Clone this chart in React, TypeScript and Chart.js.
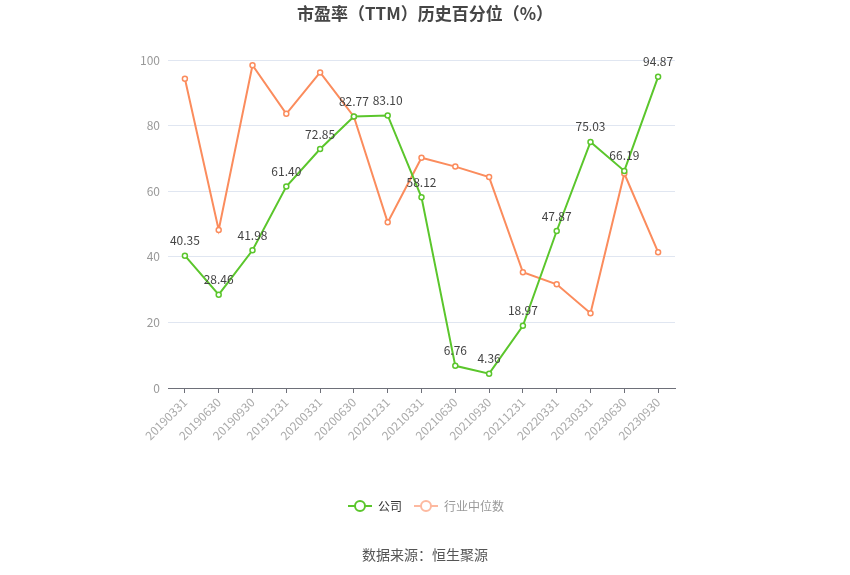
import React, { useEffect, useRef } from "react";
import { Chart, registerables } from "chart.js";

Chart.register(...registerables);

const categories = [
  "20190331", "20190630", "20190930", "20191231", "20200331",
  "20200630", "20201231", "20210331", "20210630", "20210930",
  "20211231", "20220331", "20230331", "20230630", "20230930",
];
const companyValues = [
  40.35, 28.46, 41.98, 61.4, 72.85, 82.77, 83.1, 58.12, 6.76, 4.36,
  18.97, 47.87, 75.03, 66.19, 94.87,
];
const industryValues = [
  94.3, 48.2, 98.4, 83.6, 96.2, 82.7, 50.5, 70.2, 67.5, 64.3,
  35.3, 31.6, 22.8, 65.4, 41.4,
];
const yTicks = [0, 20, 40, 60, 80, 100];
const titleText = "市盈率（TTM）历史百分位（%）";
const sourceText = "数据来源：恒生聚源";
const seriesNames = ["公司", "行业中位数"];

const GREEN = "#5bc62c";
const ORANGE = "#fb8c5d";
const FONT = "'Noto Sans CJK SC', 'Noto Sans', sans-serif";

const decorPlugin = {
  id: "decor",
  afterDatasetsDraw(chart: any) {
    const ctx = chart.ctx;
    ctx.save();
    const meta = chart.getDatasetMeta(0);
    ctx.font = `12px ${FONT}`;
    ctx.fillStyle = "#444";
    ctx.textAlign = "center";
    ctx.textBaseline = "middle";
    meta.data.forEach((pt: any, i: number) => {
      ctx.fillText(companyValues[i].toFixed(2), pt.x, pt.y - 15);
    });
    ctx.restore();
  },
  afterDraw(chart: any) {
    const ctx = chart.ctx;
    const w = chart.width;
    ctx.save();
    ctx.font = `bold 17px ${FONT}`;
    ctx.fillStyle = "#464646";
    ctx.textAlign = "center";
    ctx.textBaseline = "middle";
    ctx.fillText(titleText, w / 2, 14);
    ctx.font = `14px ${FONT}`;
    ctx.fillStyle = "#555";
    ctx.fillText(sourceText, w / 2, 555);
    const items = [
      { x: 348, color: GREEN, text: seriesNames[0], textColor: "#333" },
      { x: 414, color: "#fdb9a0", text: seriesNames[1], textColor: "#999" },
    ];
    const ly = 506;
    items.forEach((it) => {
      ctx.strokeStyle = it.color;
      ctx.lineWidth = 2;
      ctx.beginPath();
      ctx.moveTo(it.x, ly);
      ctx.lineTo(it.x + 24, ly);
      ctx.stroke();
      ctx.beginPath();
      ctx.arc(it.x + 12, ly, 5, 0, Math.PI * 2);
      ctx.fillStyle = "#fff";
      ctx.fill();
      ctx.stroke();
      ctx.font = `12px ${FONT}`;
      ctx.fillStyle = it.textColor;
      ctx.textAlign = "left";
      ctx.fillText(it.text, it.x + 30, ly);
    });
    ctx.restore();
  },
};

export default function App() {
  const ref = useRef<HTMLCanvasElement>(null);
  useEffect(() => {
    if (!ref.current) return;
    const chart = new Chart(ref.current, {
      type: "line",
      data: {
        labels: categories,
        datasets: [
          {
            label: seriesNames[0],
            data: companyValues,
            borderColor: GREEN,
            backgroundColor: "#fff",
            borderWidth: 2,
            pointRadius: 2.5,
            pointBorderWidth: 1.5,
            pointBackgroundColor: "#fff",
            pointBorderColor: GREEN,
            tension: 0,
          },
          {
            label: seriesNames[1],
            data: industryValues,
            borderColor: ORANGE,
            backgroundColor: "#fff",
            borderWidth: 2,
            pointRadius: 2.5,
            pointBorderWidth: 1.5,
            pointBackgroundColor: "#fff",
            pointBorderColor: ORANGE,
            tension: 0,
          },
        ],
      },
      options: {
        responsive: false,
        animation: false,
        events: [],
        layout: { padding: { top: 60, right: 175, bottom: 0, left: 0 } },
        plugins: {
          legend: { display: false },
          title: { display: false },
          tooltip: { enabled: false },
        },
        scales: {
          x: {
            offset: true,
            grid: {
              offset: false,
              drawOnChartArea: false,
              drawTicks: true,
              tickLength: 5,
              color: "#6e7079",
            },
            border: { display: true, color: "#6e7079" },
            ticks: {
              color: "#aaa",
              font: { size: 12, family: FONT },
              maxRotation: 45,
              minRotation: 45,
              autoSkip: false,
              padding: 2,
            },
            afterFit(scale: any) {
              scale.height = 187;
            },
          },
          y: {
            min: 0,
            max: 100,
            afterBuildTicks(scale: any) {
              scale.ticks = yTicks.map((v) => ({ value: v }));
            },
            grid: { color: "#e0e6f1", drawTicks: false, lineWidth: 1 },
            border: { display: false },
            ticks: {
              color: "#999",
              font: { size: 12, family: FONT },
              padding: 8,
            },
            afterFit(scale: any) {
              scale.width = 168;
            },
          },
        },
      },
      plugins: [decorPlugin],
    } as any);
    return () => chart.destroy();
  }, []);
  return (
    <div style={{ position: "fixed", left: 0, top: 0, width: 850, height: 575, background: "#fff" }}>
      <canvas ref={ref} width={850} height={575} style={{ display: "block" }} />
    </div>
  );
}
